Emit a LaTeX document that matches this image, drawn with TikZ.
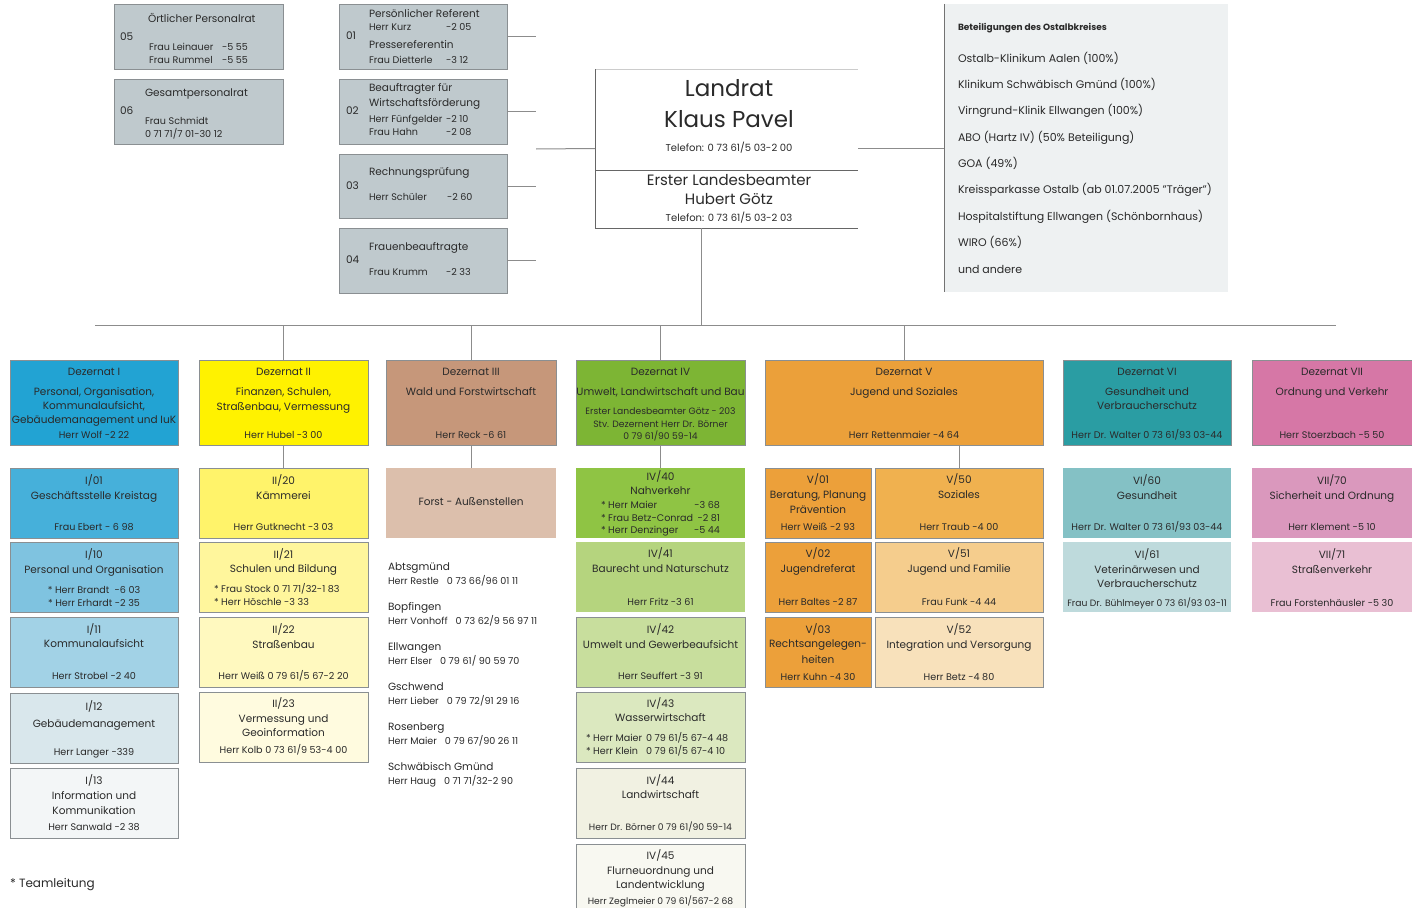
\documentclass[tikz,border=0pt]{standalone}
\usepackage{fontspec}
\setmainfont{Poppins}
\definecolor{txtc}{HTML}{2A2A2A}
\definecolor{bord}{HTML}{8A8F92}
\definecolor{lnc}{HTML}{8C8C8C}
\definecolor{stf}{HTML}{BFC9CD}
\definecolor{betc}{HTML}{EEF1F2}
\definecolor{dzI}{HTML}{22A3D3}
\definecolor{cI01}{HTML}{46B0DA}
\definecolor{cI10}{HTML}{7FC3E0}
\definecolor{cI11}{HTML}{A2D2E6}
\definecolor{cI12}{HTML}{D9E7EC}
\definecolor{cI13}{HTML}{F3F6F7}
\definecolor{dzII}{HTML}{FFF200}
\definecolor{cII20}{HTML}{FFF36A}
\definecolor{cII21}{HTML}{FFF69C}
\definecolor{cII22}{HTML}{FFF9BF}
\definecolor{cII23}{HTML}{FFFBDF}
\definecolor{dzIII}{HTML}{C6977A}
\definecolor{cForst}{HTML}{DCBFAC}
\definecolor{dzIV}{HTML}{7DB534}
\definecolor{cIV40}{HTML}{8FC444}
\definecolor{cIV41}{HTML}{B5D47E}
\definecolor{cIV42}{HTML}{C8DE9D}
\definecolor{cIV43}{HTML}{DBE8BF}
\definecolor{cIV44}{HTML}{F1F1E2}
\definecolor{cIV45}{HTML}{F8F8F1}
\definecolor{dzV}{HTML}{EBA03A}
\definecolor{cV0}{HTML}{ECA03A}
\definecolor{cV50}{HTML}{F0B14F}
\definecolor{cV51}{HTML}{F5CD8D}
\definecolor{cV52}{HTML}{F8E1BB}
\definecolor{dzVI}{HTML}{2A9DA3}
\definecolor{cVI60}{HTML}{84C1C5}
\definecolor{cVI61}{HTML}{BEDADC}
\definecolor{dzVII}{HTML}{D677A6}
\definecolor{cVII70}{HTML}{DA98BD}
\definecolor{cVII71}{HTML}{E9BFD3}
\newcommand\fzA{\fontsize{10.5}{12}\selectfont}
\newcommand\fzB{\fontsize{9.6}{11}\selectfont}
\newcommand\fzC{\fontsize{9.2}{10}\selectfont}
\newcommand\fzL{\fontsize{23}{26}\selectfont}
\newcommand\fzM{\fontsize{15}{17}\selectfont}
\newcommand\fzT{\fontsize{10}{11}\selectfont}
\newcommand\fzE{\fontsize{11}{13}\selectfont}
\newcounter{tn}
\newcommand\mytx[4][]{\stepcounter{tn}\node[tt,#1] (t\arabic{tn}) at (#2,#3) {#4};}
\newcommand\mybx[7][]{\node[bx,fill=#7,minimum width={(#5-#3)*1pt},minimum height={(#6-#4)*1pt},anchor=north west,#1] (#2) at (#3,#4) {};}
\tikzset{
  bx/.style={draw=bord, line width=0.7pt, inner sep=0pt, outer sep=0pt},
  ln/.style={draw=lnc, line width=1pt},
  tt/.style={anchor=mid, inner sep=0pt, outer sep=0pt, text=txtc, font=\fzA},
  tl/.style={anchor=mid west},
  tr/.style={anchor=mid east},
  sm/.style={font=\fzB},
  xs/.style={font=\fzC},
  be/.style={anchor=mid west, font=\fzE},
}
\begin{document}
\begin{tikzpicture}[x=1pt,y=-1pt]
\useasboundingbox (0,0) rectangle (1412,907);
\fill[white] (0,0) rectangle (1412,907);

% ---------------- staff boxes
\mybx{s05}{114}{4}{283}{69}{stf}
\mytx[tl]{120}{38}{05}
\mytx[tl]{148}{20}{Örtlicher Personalrat}
\mytx[tl,sm]{149}{48}{Frau Leinauer}
\mytx[tl,sm]{222}{48}{-5 55}
\mytx[tl,sm]{149}{61}{Frau Rummel}
\mytx[tl,sm]{222}{61}{-5 55}

\mybx{s06}{114}{79}{283}{144}{stf}
\mytx[tl]{120}{112}{06}
\mytx[tl]{145}{94}{Gesamtpersonalrat}
\mytx[tl,sm]{145}{122}{Frau Schmidt}
\mytx[tl,sm]{145}{135}{0 71 71/7 01-30 12}

\mybx{s01}{339}{4}{507}{69}{stf}
\mytx[tl]{346}{37}{01}
\mytx[tl]{369}{15}{Persönlicher Referent}
\mytx[tl,sm]{369}{28}{Herr Kurz}
\mytx[tl,sm]{446}{28}{-2 05}
\mytx[tl]{369}{46}{Pressereferentin}
\mytx[tl,sm]{369}{61}{Frau Dietterle}
\mytx[tl,sm]{446}{61}{-3 12}

\mybx{s02}{339}{79}{507}{144}{stf}
\mytx[tl]{346}{112}{02}
\mytx[tl]{369}{89}{Beauftragter für}
\mytx[tl]{369}{104}{Wirtschaftsförderung}
\mytx[tl,sm]{369}{120}{Herr Fünfgelder}
\mytx[tl,sm]{446}{120}{-2 10}
\mytx[tl,sm]{369}{133}{Frau Hahn}
\mytx[tl,sm]{446}{133}{-2 08}

\mybx{s03}{339}{154}{507}{218}{stf}
\mytx[tl]{346}{187}{03}
\mytx[tl]{369}{173}{Rechnungsprüfung}
\mytx[tl,sm]{369}{198}{Herr Schüler}
\mytx[tl,sm]{447}{198}{-2 60}

\mybx{s04}{339}{228}{507}{293}{stf}
\mytx[tl]{346}{261}{04}
\mytx[tl]{369}{248}{Frauenbeauftragte}
\mytx[tl,sm]{369}{273}{Frau Krumm}
\mytx[tl,sm]{446}{273}{-2 33}

\coordinate (cx) at (536,149);
\foreach \s in {s01,s02,s03,s04}{\draw[ln] (\s.east) -- (\s.east -| cx);}

% ---------------- Landrat
\node[inner sep=0pt, outer sep=0pt, minimum width=263pt, minimum height=159pt, anchor=north west] (land) at (595,69) {};
\coordinate (ldiv) at (726,170);
\draw[draw=black!20, line width=0.6pt] (land.north west) -- (land.north east);
\draw[draw=black!60, line width=0.8pt] (land.north west) -- (land.south west) -- (land.south east);
\draw[draw=black!60, line width=0.8pt] (land.west |- ldiv) -- (land.east |- ldiv);
\mytx[font=\fzL]{729}{94}{Landrat}
\mytx[font=\fzL]{729}{125}{Klaus Pavel}
\mytx[font=\fzT]{729}{149}{Telefon: 0 73 61/5 03-2 00}
\mytx[font=\fzM]{729}{183}{Erster Landesbeamter}
\mytx[font=\fzM]{729}{202}{Hubert Götz}
\mytx[font=\fzT]{729}{219}{Telefon: 0 73 61/5 03-2 03}
\draw[ln] (cx) -- (land.west);

% ---------------- Beteiligungen
\mybx[draw=none]{bet}{944}{4}{1228}{292}{betc}
\draw[draw=black!55, line width=0.8pt] (bet.north west) -- (bet.south west);
\draw[ln] (land.east) -- (bet.west |- land.east);
\mytx[tl,font=\bfseries\fontsize{9}{11}\selectfont]{958}{28}{Beteiligungen des Ostalbkreises}
\mytx[be]{958}{60}{Ostalb-Klinikum Aalen (100\%)}
\mytx[be]{958}{86}{Klinikum Schwäbisch Gmünd (100\%)}
\mytx[be]{958}{112}{Virngrund-Klinik Ellwangen (100\%)}
\mytx[be]{958}{139}{ABO (Hartz IV) (50\% Beteiligung)}
\mytx[be]{958}{165}{GOA (49\%)}
\mytx[be]{958}{191}{Kreissparkasse Ostalb (ab 01.07.2005 "Träger")}
\mytx[be]{958}{218}{Hospitalstiftung Ellwangen (Schönbornhaus)}
\mytx[be]{958}{244}{WIRO (66\%)}
\mytx[be]{958}{271}{und andere}

% ---------------- bus
\coordinate (lb) at (701,228);
\coordinate (busL) at (95,325);
\coordinate (busR) at (1336,325);
\draw[ln] (lb) -- (lb |- busL);
\draw[ln] (busL) -- (busR);

% ---------------- Dezernate
\mybx{dI}{10}{360}{178}{445}{dzI}
\mybx{dII}{199}{360}{368}{445}{dzII}
\mybx{dIII}{386}{360}{556}{445}{dzIII}
\mybx{dIV}{576}{360}{745}{445}{dzIV}
\mybx{dV}{765}{360}{1043}{445}{dzV}
\mybx{dVI}{1063}{360}{1231}{445}{dzVI}
\mybx{dVII}{1252}{360}{1412}{445}{dzVII}
\foreach \d in {dII,dIII,dIV,dV}{\draw[ln] (\d.north) -- (\d.north |- busL);}

\mytx{94}{373}{Dezernat I}
\mytx{94}{393}{Personal, Organisation,}
\mytx{94}{407}{Kommunalaufsicht,}
\mytx{94}{421}{Gebäudemanagement und IuK}
\mytx[sm]{94}{436}{Herr Wolf -2 22}

\mytx{283.5}{373}{Dezernat II}
\mytx{283.5}{393}{Finanzen, Schulen,}
\mytx{283.5}{408}{Straßenbau, Vermessung}
\mytx[sm]{283.5}{436}{Herr Hubel -3 00}

\mytx{471}{373}{Dezernat III}
\mytx{471}{393}{Wald und Forstwirtschaft}
\mytx[sm]{471}{436}{Herr Reck -6 61}

\mytx{660.5}{373}{Dezernat IV}
\mytx{660.5}{393}{Umwelt, Landwirtschaft und Bau}
\mytx[xs]{660.5}{412}{Erster Landesbeamter Götz - 203}
\mytx[xs]{660.5}{425}{Stv. Dezernent Herr Dr. Börner}
\mytx[xs]{660.5}{437}{0 79 61/90 59-14}

\mytx{904}{373}{Dezernat V}
\mytx{904}{393}{Jugend und Soziales}
\mytx[sm]{904}{436}{Herr Rettenmaier -4 64}

\mytx{1147}{373}{Dezernat VI}
\mytx{1147}{393}{Gesundheit und}
\mytx{1147}{407}{Verbraucherschutz}
\mytx[sm]{1147}{436}{Herr Dr. Walter 0 73 61/93 03-44}

\mytx{1332}{373}{Dezernat VII}
\mytx{1332}{393}{Ordnung und Verkehr}
\mytx[sm]{1332}{436}{Herr Stoerzbach -5 50}

% ---------------- Dezernat I
\mybx{i01}{10}{468}{178}{538}{cI01}
\mytx{94}{482}{I/01}
\mytx{94}{497}{Geschäftsstelle Kreistag}
\mytx[sm]{94}{528}{Frau Ebert - 6 98}
\mybx{i10}{10}{542}{178}{612}{cI10}
\mytx{94}{556}{I/10}
\mytx{94}{571}{Personal und Organisation}
\mytx[sm]{94}{591}{* Herr Brandt \ -6 03}
\mytx[sm]{94}{604}{* Herr Erhardt -2 35}
\mybx{i11}{10}{617}{178}{687}{cI11}
\mytx{94}{631}{I/11}
\mytx{94}{645}{Kommunalaufsicht}
\mytx[sm]{94}{677}{Herr Strobel -2 40}
\mybx{i12}{10}{693}{178}{763}{cI12}
\mytx{94}{708}{I/12}
\mytx{94}{725}{Gebäudemanagement}
\mytx[sm]{94}{753}{Herr Langer -339}
\mybx{i13}{10}{768}{178}{838}{cI13}
\mytx{94}{782}{I/13}
\mytx{94}{797}{Information und}
\mytx{94}{812}{Kommunikation}
\mytx[sm]{94}{828}{Herr Sanwald -2 38}
\mytx[tl,font=\fontsize{12}{14}\selectfont]{10}{885}{* Teamleitung}

% ---------------- Dezernat II
\mybx{ii20}{199}{468}{368}{538}{cII20}
\draw[ln] (dII.south) -- (ii20.north);
\mytx{283.5}{482}{II/20}
\mytx{283.5}{497}{Kämmerei}
\mytx[sm]{283.5}{528}{Herr Gutknecht -3 03}
\mybx{ii21}{199}{542}{368}{612}{cII21}
\mytx{283.5}{556}{II/21}
\mytx{283.5}{570}{Schulen und Bildung}
\mytx[tl,sm]{214}{590}{* Frau Stock 0 71 71/32-1 83}
\mytx[tl,sm]{214}{603}{* Herr Höschle -3 33}
\mybx{ii22}{199}{617}{368}{687}{cII22}
\mytx{283.5}{631}{II/22}
\mytx{283.5}{646}{Straßenbau}
\mytx[sm]{283.5}{677}{Herr Weiß 0 79 61/5 67-2 20}
\mybx{ii23}{199}{692}{368}{762}{cII23}
\mytx{283.5}{705}{II/23}
\mytx{283.5}{720}{Vermessung und}
\mytx{283.5}{734}{Geoinformation}
\mytx[sm]{283.5}{751}{Herr Kolb 0 73 61/9 53-4 00}

% ---------------- Dezernat III
\mybx[draw=none]{forst}{386}{468}{556}{538}{cForst}
\draw[ln] (dIII.south) -- (forst.north);
\mytx{471}{503}{Forst - Außenstellen}
\mytx[tl]{388}{568}{Abtsgmünd}
\mytx[tl,sm]{388}{582}{Herr Restle\hspace{8pt}0 73 66/96 01 11}
\mytx[tl]{388}{608}{Bopfingen}
\mytx[tl,sm]{388}{622}{Herr Vonhoff\hspace{8pt}0 73 62/9 56 97 11}
\mytx[tl]{388}{648}{Ellwangen}
\mytx[tl,sm]{388}{662}{Herr Elser\hspace{8pt}0 79 61/ 90 59 70}
\mytx[tl]{388}{688}{Gschwend}
\mytx[tl,sm]{388}{702}{Herr Lieber\hspace{8pt}0 79 72/91 29 16}
\mytx[tl]{388}{728}{Rosenberg}
\mytx[tl,sm]{388}{742}{Herr Maier\hspace{8pt}0 79 67/90 26 11}
\mytx[tl]{388}{768}{Schwäbisch Gmünd}
\mytx[tl,sm]{388}{782}{Herr Haug\hspace{8pt}0 71 71/32-2 90}

% ---------------- Dezernat IV
\mybx[draw=none]{iv40}{576}{468}{745}{538}{cIV40}
\draw[ln] (dIV.south) -- (iv40.north);
\mytx{660.5}{478}{IV/40}
\mytx{660.5}{492}{Nahverkehr}
\mytx[tl,sm]{601}{506}{* Herr Maier}
\mytx[tr,sm]{720}{506}{-3 68}
\mytx[tl,sm]{601}{519}{* Frau Betz-Conrad}
\mytx[tr,sm]{720}{519}{-2 81}
\mytx[tl,sm]{601}{531}{* Herr Denzinger}
\mytx[tr,sm]{720}{531}{-5 44}
\mybx[draw=none]{iv41}{576}{542}{745}{612}{cIV41}
\mytx{660.5}{555}{IV/41}
\mytx{660.5}{570}{Baurecht und Naturschutz}
\mytx[sm]{660.5}{603}{Herr Fritz -3 61}
\mybx{iv42}{576}{617}{745}{687}{cIV42}
\mytx{660.5}{631}{IV/42}
\mytx{660.5}{646}{Umwelt und Gewerbeaufsicht}
\mytx[sm]{660.5}{677}{Herr Seuffert -3 91}
\mybx{iv43}{576}{692}{745}{762}{cIV43}
\mytx{660.5}{705}{IV/43}
\mytx{660.5}{719}{Wasserwirtschaft}
\mytx[tl,sm]{586}{739}{* Herr Maier}
\mytx[tl,sm]{646}{739}{0 79 61/5 67-4 48}
\mytx[tl,sm]{586}{752}{* Herr Klein}
\mytx[tl,sm]{646}{752}{0 79 61/5 67-4 10}
\mybx{iv44}{576}{768}{745}{838}{cIV44}
\mytx{660.5}{782}{IV/44}
\mytx{660.5}{796}{Landwirtschaft}
\mytx[xs]{660.5}{828}{Herr Dr. Börner 0 79 61/90 59-14}
\mybx{iv45}{576}{844}{745}{910}{cIV45}
\mytx{660.5}{857}{IV/45}
\mytx{660.5}{872}{Flurneuordnung und}
\mytx{660.5}{886}{Landentwicklung}
\mytx[xs]{660.5}{902}{Herr Zeglmeier 0 79 61/567-2 68}

% ---------------- Dezernat V
\mybx{v01}{765}{468}{871}{538}{cV0}
\mytx{818}{481}{V/01}
\mytx{818}{496}{Beratung, Planung}
\mytx{818}{511}{Prävention}
\mytx[sm]{818}{528}{Herr Weiß -2 93}
\mybx{v02}{765}{542}{871}{612}{cV0}
\mytx{818}{555}{V/02}
\mytx{818}{570}{Jugendreferat}
\mytx[sm]{818}{603}{Herr Baltes -2 87}
\mybx{v03}{765}{617}{871}{687}{cV0}
\mytx{818}{631}{V/03}
\mytx{818}{645}{Rechtsangelegen-}
\mytx{818}{661}{heiten}
\mytx[sm]{818}{678}{Herr Kuhn -4 30}
\mybx{v50}{875}{468}{1043}{538}{cV50}
\draw[ln] (v50.north) -- (v50.north |- dV.south);
\mytx{959}{481}{V/50}
\mytx{959}{496}{Soziales}
\mytx[sm]{959}{528}{Herr Traub -4 00}
\mybx{v51}{875}{542}{1043}{612}{cV51}
\mytx{959}{555}{V/51}
\mytx{959}{570}{Jugend und Familie}
\mytx[sm]{959}{603}{Frau Funk -4 44}
\mybx{v52}{875}{617}{1043}{687}{cV52}
\mytx{959}{631}{V/52}
\mytx{959}{646}{Integration und Versorgung}
\mytx[sm]{959}{678}{Herr Betz -4 80}

% ---------------- Dezernat VI
\mybx[draw=none]{vi60}{1063}{468}{1231}{538}{cVI60}
\mytx{1147}{482}{VI/60}
\mytx{1147}{497}{Gesundheit}
\mytx[sm]{1147}{528}{Herr Dr. Walter 0 73 61/93 03-44}
\mybx[draw=none]{vi61}{1063}{542}{1231}{612}{cVI61}
\mytx{1147}{556}{VI/61}
\mytx{1147}{571}{Veterinärwesen und}
\mytx{1147}{585}{Verbraucherschutz}
\mytx[xs]{1147}{604}{Frau Dr. Bühlmeyer 0 73 61/93 03-11}

% ---------------- Dezernat VII
\mybx[draw=none]{vii70}{1252}{468}{1412}{538}{cVII70}
\mytx{1332}{482}{VII/70}
\mytx{1332}{497}{Sicherheit und Ordnung}
\mytx[sm]{1332}{528}{Herr Klement -5 10}
\mybx[draw=none]{vii71}{1252}{542}{1412}{612}{cVII71}
\mytx{1332}{556}{VII/71}
\mytx{1332}{571}{Straßenverkehr}
\mytx[sm]{1332}{604}{Frau Forstenhäusler -5 30}
\end{tikzpicture}
\end{document}
